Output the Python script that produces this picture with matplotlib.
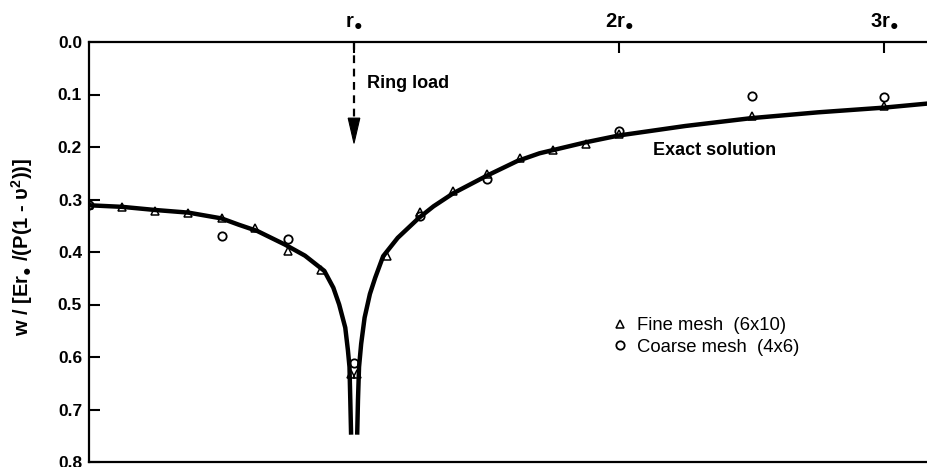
import matplotlib
matplotlib.use("Agg")
import matplotlib.pyplot as plt
from matplotlib.patches import Polygon

plt.rcParams['font.family'] = ['Liberation Sans', 'DejaVu Sans']
plt.rcParams['mathtext.fontset'] = 'custom'
plt.rcParams['mathtext.rm'] = 'Liberation Sans'
plt.rcParams['mathtext.bf'] = 'Liberation Sans:bold'
plt.rcParams['mathtext.it'] = 'Liberation Sans:italic'

# Точное решение: две ветви по обе стороны от кольцевой нагрузки (r = r0)
exact_left_r = [0.0, 0.125, 0.25, 0.375, 0.5, 0.565, 0.635, 0.74, 0.815, 0.888,
                0.922, 0.944, 0.967, 0.977, 0.983, 0.986, 0.989]
exact_left_w = [0.311, 0.314, 0.320, 0.325, 0.336, 0.348, 0.360, 0.386, 0.407, 0.436,
                0.468, 0.500, 0.544, 0.587, 0.619, 0.682, 0.748]
exact_right_r = [1.012, 1.015, 1.019, 1.027, 1.04, 1.06, 1.08, 1.11, 1.165, 1.245,
                 1.30, 1.375, 1.5, 1.615, 1.70, 1.875, 2.0, 2.25, 2.5, 2.75, 3.0, 3.17]
exact_right_w = [0.748, 0.682, 0.619, 0.575, 0.525, 0.480, 0.449, 0.408, 0.373, 0.335,
                 0.313, 0.288, 0.255, 0.227, 0.212, 0.191, 0.178, 0.160, 0.145, 0.134,
                 0.125, 0.117]

# МКЭ, мелкая сетка (6x10)
fine_r = [0.0, 0.125, 0.25, 0.375, 0.5, 0.625, 0.75, 0.875, 0.99, 1.01,
          1.125, 1.25, 1.375, 1.5, 1.625, 1.75, 1.875, 2.0, 2.5, 3.0]
fine_w = [0.311, 0.314, 0.321, 0.325, 0.336, 0.354, 0.398, 0.435, 0.632, 0.632,
          0.408, 0.323, 0.283, 0.251, 0.221, 0.205, 0.194, 0.175, 0.140, 0.122]

# МКЭ, грубая сетка (4x6)
coarse_r = [0.0, 0.5, 0.75, 1.0, 1.25, 1.5, 2.0, 2.5, 3.0]
coarse_w = [0.311, 0.370, 0.375, 0.611, 0.332, 0.260, 0.170, 0.102, 0.104]

y_ticks = [0.0, 0.1, 0.2, 0.3, 0.4, 0.5, 0.6, 0.7, 0.8]
x_ticks = [1, 2, 3]
x_tick_labels = [r'$\mathbf{r_{●}}$', r'$\mathbf{2r_{●}}$', r'$\mathbf{3r_{●}}$']

LOAD_R = 1.0

fig = plt.figure(figsize=(9.28, 4.67), dpi=100)
ax = fig.add_axes([89 / 928, 5 / 467, 1 - 89 / 928, 420 / 467])

ax.plot(exact_left_r, exact_left_w, color='black', lw=3.2, solid_capstyle='butt',
        solid_joinstyle='round', zorder=2)
ax.plot(exact_right_r, exact_right_w, color='black', lw=3.2, solid_capstyle='butt',
        solid_joinstyle='round', zorder=2)
ax.plot(fine_r, fine_w, linestyle='none', marker='^', ms=6, mfc='none', mec='black',
        mew=1.1, label='Fine mesh  (6x10)', zorder=3)
ax.plot(coarse_r, coarse_w, linestyle='none', marker='o', ms=6, mfc='none', mec='black',
        mew=1.3, label='Coarse mesh  (4x6)', zorder=3)

# Стрелка кольцевой нагрузки
ax.plot([LOAD_R, LOAD_R], [0.0, 0.145], color='black', lw=1.6,
        linestyle=(0, (3.5, 2.5)), zorder=2)
ax.add_patch(Polygon([(LOAD_R - 0.022, 0.145), (LOAD_R + 0.022, 0.145), (LOAD_R, 0.193)],
                     closed=True, facecolor='black', edgecolor='black', lw=0.8, zorder=2))

ax.text(1.05, 0.079, 'Ring load', fontsize=13, fontweight='bold', ha='left', va='center')
ax.text(2.128, 0.207, 'Exact solution', fontsize=13, fontweight='bold', ha='left', va='center')

# Оси
ax.set_xlim(0, 3.166)
ax.set_ylim(0.8, 0.0)
ax.set_yticks(y_ticks)
ax.set_yticklabels([f'{v:.1f}' for v in y_ticks], fontsize=12.5, fontweight='bold')
ax.xaxis.tick_top()
ax.set_xticks(x_ticks)
ax.set_xticklabels(x_tick_labels, fontsize=14.5)
ax.tick_params(axis='y', direction='in', length=8, width=1.5, pad=5)
ax.tick_params(axis='x', direction='in', length=8, width=1.5, pad=8)

ax.spines['right'].set_visible(False)
for side in ['left', 'top', 'bottom']:
    ax.spines[side].set_linewidth(1.6)

ax.set_ylabel(r'w / [$\mathbf{Er_{●}}$ /(P(1 - $\mathbf{υ^{2}}$))]', fontsize=14.5,
              fontweight='bold')
ax.yaxis.set_label_coords(-0.064, 0.512)

ax.legend(loc='upper left', bbox_to_anchor=(0.6225, 0.345), frameon=False, fontsize=13.3,
          handlelength=0.9, handletextpad=0.5, labelspacing=0.25, borderpad=0, borderaxespad=0)

fig.savefig('out.png', dpi=100)
